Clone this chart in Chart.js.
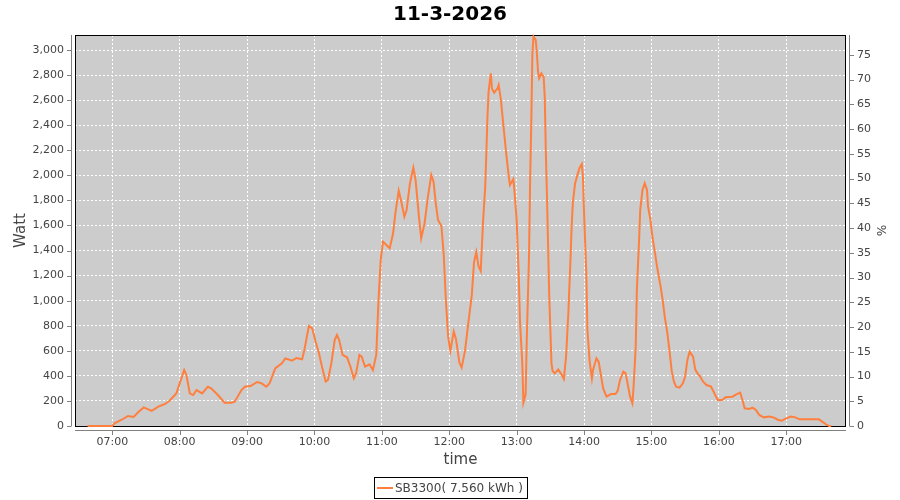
<!DOCTYPE html>
<html>
<head>
<meta charset="utf-8">
<script src="https://cdn.jsdelivr.net/npm/chart.js@4.4.1/dist/chart.umd.min.js"></script>
<style>
  html, body { margin: 0; padding: 0; background: #fff; }
  canvas { display: block; }
</style>
</head>
<body>
<canvas id="myChart" width="900" height="500"></canvas>
<script>
var times = [
  '06:38','07:00','07:02','07:08','07:14','07:19','07:23','07:28','07:35','07:41','07:47','07:51','07:57',
  '08:00','08:04','08:06','08:09','08:12','08:15','08:20','08:25','08:28','08:34','08:40','08:46','08:49','08:55','08:58',
  '09:03','09:09','09:13','09:17','09:20','09:25','09:31','09:34','09:40','09:44','09:49','09:51','09:55','09:58',
  '10:01','10:04','10:07','10:10','10:12','10:15','10:18','10:20','10:22','10:25','10:29','10:32','10:35','10:37',
  '10:40','10:42','10:45','10:49','10:52','10:55','10:57','10:59',
  '11:01','11:04','11:07','11:10','11:12','11:15','11:17','11:20','11:22','11:25','11:28','11:30','11:33','11:35',
  '11:38','11:41','11:44','11:46','11:48','11:50','11:53','11:55','11:57','11:59',
  '12:01','12:04','12:06','12:09','12:11','12:14','12:17','12:20','12:22','12:24','12:26','12:28','12:30','12:32',
  '12:33','12:34','12:35','12:37','12:38','12:40','12:43','12:44','12:46','12:48','12:51','12:53','12:54','12:57','12:58',
  '13:00','13:02','13:03','13:05','13:06','13:08','13:09','13:11','13:12','13:13','13:14','13:15','13:17','13:18',
  '13:19','13:20','13:22','13:24','13:25','13:26','13:27','13:28','13:29','13:31','13:32','13:34','13:37','13:40',
  '13:42','13:44','13:46','13:48','13:49','13:50','13:52','13:54','13:56','13:58','13:59',
  '14:00','14:02','14:03','14:05','14:07','14:08','14:11','14:13','14:15','14:17','14:20','14:24','14:28','14:30',
  '14:32','14:35','14:37','14:39','14:41','14:43','14:44','14:46','14:47','14:49','14:50','14:52','14:54','14:56',
  '14:57','14:59',
  '15:01','15:03','15:05','15:08','15:10','15:12','15:14','15:16','15:18','15:20','15:22','15:25','15:28','15:30',
  '15:32','15:34','15:37','15:39','15:41','15:43','15:46','15:49','15:53','15:56','15:59',
  '16:03','16:06','16:12','16:16','16:19','16:21','16:23','16:27','16:30','16:33','16:36','16:40','16:45','16:49',
  '16:53','16:56',
  '17:00','17:04','17:08','17:12','17:29','17:32','17:35','17:38','17:40'
];
var watts = [
  0,0,21,48,80,72,110,148,120,155,176,202,260,
  340,447,407,260,247,287,260,313,300,247,186,186,194,287,313,
  319,351,340,313,340,460,500,540,521,543,532,606,798,779,
  673,580,460,354,367,500,686,726,686,567,548,474,380,420,
  567,554,474,492,447,567,1005,1325,
  1471,1444,1418,1538,1697,1878,1803,1670,1723,1936,2061,1963,1670,1497,
  1617,1830,2003,1950,1777,1644,1596,1378,1000,713,
  600,755,692,506,466,599,825,1038,1304,1389,1277,1237,1617,1910,
  2176,2468,2668,2814,2694,2660,2694,2721,2601,2415,2149,1990,1923,1969,1883,
  1644,1165,825,506,186,253,692,1357,1969,2415,2974,3107,3080,2974,
  2828,2774,2814,2787,2628,2176,1830,1431,1038,500,439,420,452,410,
  375,555,900,1351,1600,1780,1936,2000,2060,2091,1990,
  1700,1218,766,513,380,447,540,513,407,300,234,255,255,282,
  367,434,420,327,234,181,300,633,1085,1484,1723,1883,1936,1883,
  1750,1650,
  1500,1390,1271,1120,1005,860,753,606,440,354,314,306,340,394,
  527,593,553,450,420,400,354,327,314,261,207,
  207,229,234,255,266,207,141,136,146,128,88,69,75,67,
  48,43,
  61,75,69,53,53,35,16,0,0
];
var hourTicks = ['07:00','08:00','09:00','10:00','11:00','12:00','13:00','14:00','15:00','16:00','17:00'];
var wattTicks = [0,200,400,600,800,1000,1200,1400,1600,1800,2000,2200,2400,2600,2800,3000];
var pctTicks = [0,5,10,15,20,25,30,35,40,45,50,55,60,65,70,75];
var seriesLabel = 'SB3300( 7.560 kWh )';

function toMin(s) {
  var p = s.split(':');
  return parseInt(p[0], 10) * 60 + parseInt(p[1], 10);
}
function fmtMin(v) {
  var h = Math.floor(v / 60), m = Math.round(v - h * 60);
  return (h < 10 ? '0' : '') + h + ':' + (m < 10 ? '0' : '') + m;
}

var points = times.map(function (t, i) { return { x: toMin(t), y: watts[i] }; });

Chart.defaults.font.family = '"DejaVu Sans", sans-serif';

var axisGray = '#808080';
var textGray = '#444444';

// JFreeChart-ish frame: gray plot, offset axis lines, boxed legend
var framePlugin = {
  id: 'frame',
  beforeDraw: function (chart) {
    var c = chart.ctx, a = chart.chartArea;
    c.save();
    c.fillStyle = '#ffffff';
    c.fillRect(0, 0, chart.width, chart.height);
    c.fillStyle = '#cccccc';
    c.fillRect(a.left, a.top, a.right - a.left, a.bottom - a.top);
    c.restore();
  },
  beforeDatasetsDraw: function (chart) {
    // plot outline goes under the series so the zero run stays visible
    var c = chart.ctx, a = chart.chartArea;
    var L = Math.round(a.left), R = Math.round(a.right), T = Math.round(a.top), B = Math.round(a.bottom);
    c.save();
    c.strokeStyle = '#000000';
    c.lineWidth = 1;
    c.strokeRect(L + 0.5, T + 0.5, R - L - 1, B - T);
    c.restore();
  },
  afterDraw: function (chart) {
    var c = chart.ctx, a = chart.chartArea;
    var L = Math.round(a.left), R = Math.round(a.right), T = Math.round(a.top), B = Math.round(a.bottom);
    c.save();
    c.lineWidth = 1;
    c.strokeStyle = axisGray;
    c.beginPath();
    // left axis
    c.moveTo(L - 3.5, T); c.lineTo(L - 3.5, B);
    chart.scales.y.ticks.forEach(function (t) {
      var py = Math.round(chart.scales.y.getPixelForValue(t.value)) + 0.5;
      c.moveTo(L - 8, py); c.lineTo(L - 3.5, py);
    });
    // right axis
    c.moveTo(R + 3.5, T); c.lineTo(R + 3.5, B);
    chart.scales.y1.ticks.forEach(function (t) {
      var py = Math.round(chart.scales.y1.getPixelForValue(t.value)) + 0.5;
      c.moveTo(R + 3.5, py); c.lineTo(R + 8, py);
    });
    // bottom axis
    c.moveTo(L, B + 4.5); c.lineTo(R, B + 4.5);
    chart.scales.x.ticks.forEach(function (t) {
      var px = Math.round(chart.scales.x.getPixelForValue(t.value)) + 0.5;
      c.moveTo(px, B + 4.5); c.lineTo(px, B + 9);
    });
    c.stroke();

    // legend
    c.font = '12px "DejaVu Sans", sans-serif';
    var tw = c.measureText(seriesLabel).width;
    var bw = Math.round(tw + 25), bh = 21;
    var bx = Math.round((chart.width - bw) / 2), by = 477;
    c.strokeStyle = '#000000';
    c.strokeRect(bx + 0.5, by + 0.5, bw, bh);
    c.strokeStyle = chart.data.datasets[0].borderColor;
    c.lineWidth = 2;
    c.beginPath();
    c.moveTo(bx + 3, by + 11); c.lineTo(bx + 19, by + 11);
    c.stroke();
    c.fillStyle = textGray;
    c.textBaseline = 'middle';
    c.textAlign = 'left';
    c.fillText(seriesLabel, bx + 21, by + 11.5);
    c.restore();
  }
};

var ctx = document.getElementById('myChart').getContext('2d');
var myChart = new Chart(ctx, {
  type: 'line',
  data: {
    datasets: [{
      label: seriesLabel,
      data: points,
      borderColor: '#ff7f3f',
      borderWidth: 2,
      pointRadius: 0,
      tension: 0,
      fill: false,
      clip: 2,
      yAxisID: 'y'
    }]
  },
  options: {
    responsive: false,
    animation: false,
    devicePixelRatio: 1,
    layout: { padding: { left: 0, right: 0, top: 0, bottom: 30 } },
    plugins: {
      legend: { display: false },
      tooltip: { enabled: false },
      title: {
        display: true,
        text: '11-3-2026',
        color: '#000000',
        font: { size: 20, weight: 'bold' },
        padding: { top: 3, bottom: 8 }
      }
    },
    scales: {
      x: {
        type: 'linear',
        min: 386.8,
        max: 1073.2,
        afterBuildTicks: function (s) { s.ticks = hourTicks.map(function (h) { return { value: toMin(h) }; }); },
        afterFit: function (s) { s.height = 44; },
        ticks: { color: textGray, font: { size: 11 }, padding: 2, maxRotation: 0, callback: function (v) { return fmtMin(v); } },
        grid: { color: '#ffffff', lineWidth: 1, tickColor: 'rgba(0,0,0,0)', tickLength: 8 },
        border: { display: false, dash: [2, 2] },
        title: { display: true, text: 'time', color: textGray, font: { size: 15 }, padding: { top: 0, bottom: 1 } }
      },
      y: {
        position: 'left',
        min: 0,
        max: 3120,
        afterBuildTicks: function (s) { s.ticks = wattTicks.map(function (v) { return { value: v }; }); },
        afterFit: function (s) { s.width = 75; },
        ticks: { color: textGray, font: { size: 11 }, padding: 3 },
        grid: { color: '#ffffff', lineWidth: 1, tickColor: 'rgba(0,0,0,0)', tickLength: 8 },
        border: { display: false, dash: [2, 2] },
        title: { display: true, text: 'Watt', color: textGray, font: { size: 15 }, padding: { top: 12, bottom: 0 } }
      },
      y1: {
        position: 'right',
        min: 0,
        max: 79,
        afterBuildTicks: function (s) { s.ticks = pctTicks.map(function (v) { return { value: v }; }); },
        afterFit: function (s) { s.width = 54; },
        ticks: { color: textGray, font: { size: 11 }, padding: 3 },
        grid: { drawOnChartArea: false, color: 'rgba(0,0,0,0)', tickLength: 8 },
        border: { display: false },
        title: { display: true, text: '%', color: textGray, font: { size: 12 }, padding: { top: 13, bottom: 0 } }
      }
    }
  },
  plugins: [framePlugin]
});
</script>
</body>
</html>
